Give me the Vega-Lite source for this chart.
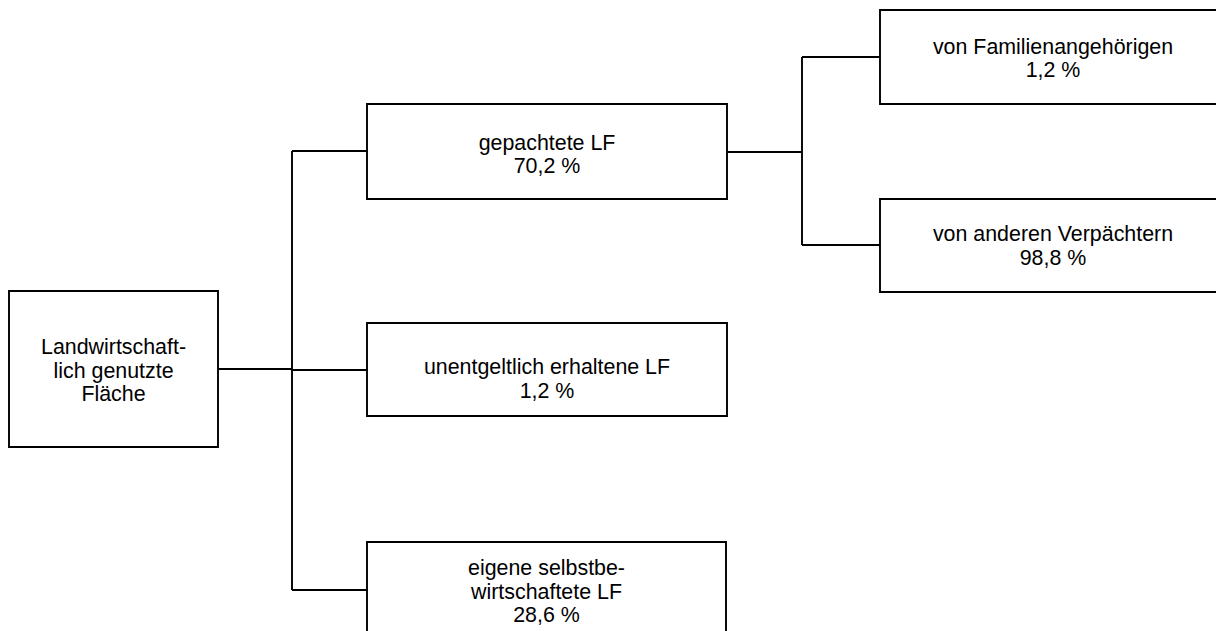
{
  "$schema": "https://vega.github.io/schema/vega-lite/v6.json",
  "width": 1216,
  "height": 631,
  "padding": 0,
  "autosize": {"type": "none"},
  "background": "white",
  "view": {"stroke": null},
  "config": {"font": "Liberation Sans"},
  "datasets": {
    "edges": [
      {"x": 218, "y": 369, "x2": 292, "y2": 369},
      {"x": 292, "y": 151, "x2": 292, "y2": 590},
      {"x": 292, "y": 151, "x2": 367, "y2": 151},
      {"x": 292, "y": 370, "x2": 367, "y2": 370},
      {"x": 292, "y": 590, "x2": 367, "y2": 590},
      {"x": 727, "y": 152, "x2": 802, "y2": 152},
      {"x": 802, "y": 57, "x2": 802, "y2": 245},
      {"x": 802, "y": 57, "x2": 880, "y2": 57},
      {"x": 802, "y": 245, "x2": 880, "y2": 245}
    ],
    "nodes": [
      {"x0": 9, "x1": 218, "y0": 291, "y1": 447, "cx": 113.5, "ty": 354, "label": "Landwirtschaft-\nlich genutzte\nFläche"},
      {"x0": 367, "x1": 727, "y0": 104, "y1": 199, "cx": 547, "ty": 149.5, "label": "gepachtete LF\n70,2 %"},
      {"x0": 367, "x1": 727, "y0": 323, "y1": 416, "cx": 547, "ty": 374, "label": "unentgeltlich erhaltene LF\n1,2 %"},
      {"x0": 367, "x1": 726, "y0": 542, "y1": 645, "cx": 546.5, "ty": 575, "label": "eigene selbstbe-\nwirtschaftete LF\n28,6 %"},
      {"x0": 880, "x1": 1230, "y0": 10, "y1": 104, "cx": 1053, "ty": 53.5, "label": "von Familienangehörigen\n1,2 %"},
      {"x0": 880, "x1": 1230, "y0": 199, "y1": 292, "cx": 1053, "ty": 241, "label": "von anderen Verpächtern\n98,8 %"}
    ]
  },
  "layer": [
    {
      "data": {"name": "edges"},
      "mark": {"type": "rule", "stroke": "black", "strokeWidth": 1.9, "clip": true},
      "encoding": {
        "x": {"field": "x", "type": "quantitative", "scale": {"domain": [0, 1216], "nice": false, "zero": false}, "axis": null},
        "y": {"field": "y", "type": "quantitative", "scale": {"domain": [0, 631], "nice": false, "zero": false, "reverse": true}, "axis": null},
        "x2": {"field": "x2"},
        "y2": {"field": "y2"}
      }
    },
    {
      "data": {"name": "nodes"},
      "mark": {"type": "rect", "fill": "white", "stroke": "black", "strokeWidth": 1.9, "clip": true},
      "encoding": {
        "x": {"field": "x0", "type": "quantitative", "scale": {"domain": [0, 1216], "nice": false, "zero": false}, "axis": null},
        "x2": {"field": "x1"},
        "y": {"field": "y0", "type": "quantitative", "scale": {"domain": [0, 631], "nice": false, "zero": false, "reverse": true}, "axis": null},
        "y2": {"field": "y1"}
      }
    },
    {
      "data": {"name": "nodes"},
      "mark": {"type": "text", "font": "Liberation Sans", "fontSize": 21.4, "lineHeight": 23.5, "lineBreak": "\n", "align": "center", "baseline": "alphabetic", "fill": "black", "clip": true},
      "encoding": {
        "x": {"field": "cx", "type": "quantitative", "scale": {"domain": [0, 1216], "nice": false, "zero": false}, "axis": null},
        "y": {"field": "ty", "type": "quantitative", "scale": {"domain": [0, 631], "nice": false, "zero": false, "reverse": true}, "axis": null},
        "text": {"field": "label", "type": "nominal"}
      }
    }
  ]
}
